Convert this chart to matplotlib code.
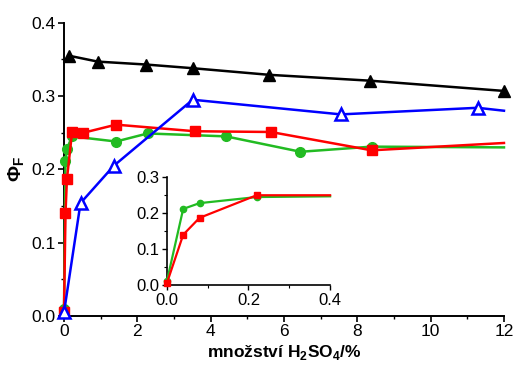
import matplotlib.pyplot as plt
from matplotlib.ticker import MultipleLocator

plt.rcParams['font.family'] = ['Liberation Sans', 'DejaVu Sans']
plt.rcParams['mathtext.fontset'] = 'custom'
plt.rcParams['mathtext.rm'] = 'Liberation Sans'
plt.rcParams['mathtext.bf'] = 'Liberation Sans:bold'

# data
x_black = [0.14, 0.92, 2.24, 3.51, 5.59, 8.34, 12.0]
y_black = [0.355, 0.347, 0.343, 0.338, 0.329, 0.321, 0.307]

x_blue = [0.0, 0.45, 1.36, 3.51, 7.55, 11.28, 12.0]
y_blue = [0.005, 0.154, 0.205, 0.295, 0.275, 0.284, 0.280]

x_red = [0.0, 0.04, 0.08, 0.22, 0.53, 1.42, 3.57, 5.64, 8.39, 12.0]
y_red = [0.006, 0.140, 0.187, 0.251, 0.250, 0.261, 0.252, 0.251, 0.226, 0.236]

x_green = [0.0, 0.04, 0.08, 0.22, 1.42, 2.28, 4.42, 6.45, 8.39, 12.0]
y_green = [0.010, 0.212, 0.228, 0.245, 0.238, 0.249, 0.245, 0.224, 0.231, 0.230]

# inset (zoom of the first 0.4 %)
xi_red = [0.0, 0.04, 0.08, 0.22, 0.4]
yi_red = [0.005, 0.140, 0.187, 0.250, 0.250]
xi_green = [0.0, 0.04, 0.08, 0.22, 0.4]
yi_green = [0.010, 0.212, 0.228, 0.245, 0.247]

fig = plt.figure(figsize=(5.15, 3.67), dpi=100)
ax = fig.add_axes([0.1243, 0.139, 0.8543, 0.799])

ax.plot(x_green, y_green, color='#22bb22', lw=1.8, marker='o', ms=7,
        markevery=list(range(len(x_green) - 1)), clip_on=False, zorder=3)
ax.plot(x_red, y_red, color='red', lw=1.8, marker='s', ms=7,
        markevery=list(range(len(x_red) - 1)), clip_on=False, zorder=4)
ax.plot(x_blue, y_blue, color='blue', lw=1.8, marker='^', ms=8, mfc='white', mew=1.8,
        markevery=list(range(len(x_blue) - 1)), clip_on=False, zorder=5)
ax.plot(x_black, y_black, color='black', lw=1.8, marker='^', ms=8,
        clip_on=False, zorder=6)

ax.set_xlim(0, 12)
ax.set_ylim(0, 0.4)
ax.xaxis.set_major_locator(MultipleLocator(2))
ax.xaxis.set_minor_locator(MultipleLocator(1))
ax.yaxis.set_major_locator(MultipleLocator(0.1))
ax.yaxis.set_minor_locator(MultipleLocator(0.05))
ax.xaxis.set_major_formatter(lambda v, p: f"{v:.0f}")
ax.yaxis.set_major_formatter(lambda v, p: f"{v:.1f}")
for s in ['top', 'right']:
    ax.spines[s].set_visible(False)
for s in ['left', 'bottom']:
    ax.spines[s].set_linewidth(1.4)
ax.tick_params(which='major', length=4, width=1.2, labelsize=12.5, pad=2)
ax.tick_params(which='minor', length=2.5, width=1.0)
ax.set_xlabel('množství H$_\\mathbf{2}$SO$_\\mathbf{4}$/%', fontsize=12.5,
              fontweight='bold', labelpad=3)
ax.set_ylabel('$\\mathbf{\\Phi_F}$', fontsize=14, labelpad=4)

# inset
axi = fig.add_axes([0.324, 0.2234, 0.317, 0.2935])
axi.plot(xi_green, yi_green, color='#22bb22', lw=1.6, marker='o', ms=4.5,
         markevery=[0, 1, 2, 3], clip_on=False, zorder=3)
axi.plot(xi_red, yi_red, color='red', lw=1.6, marker='s', ms=4.5,
         markevery=[0, 1, 2, 3], clip_on=False, zorder=4)
axi.set_xlim(0, 0.4)
axi.set_ylim(0, 0.3)
axi.xaxis.set_major_locator(MultipleLocator(0.2))
axi.xaxis.set_minor_locator(MultipleLocator(0.1))
axi.yaxis.set_major_locator(MultipleLocator(0.1))
axi.yaxis.set_minor_locator(MultipleLocator(0.05))
axi.xaxis.set_major_formatter(lambda v, p: f"{v:.1f}")
axi.yaxis.set_major_formatter(lambda v, p: f"{v:.1f}")
for s in ['top', 'right']:
    axi.spines[s].set_visible(False)
for s in ['left', 'bottom']:
    axi.spines[s].set_linewidth(1.2)
axi.tick_params(which='major', length=3.5, width=1.0, labelsize=12, pad=2)
axi.tick_params(which='minor', length=2, width=0.8)
axi.patch.set_alpha(0)

fig.savefig('out.png', dpi=100)
